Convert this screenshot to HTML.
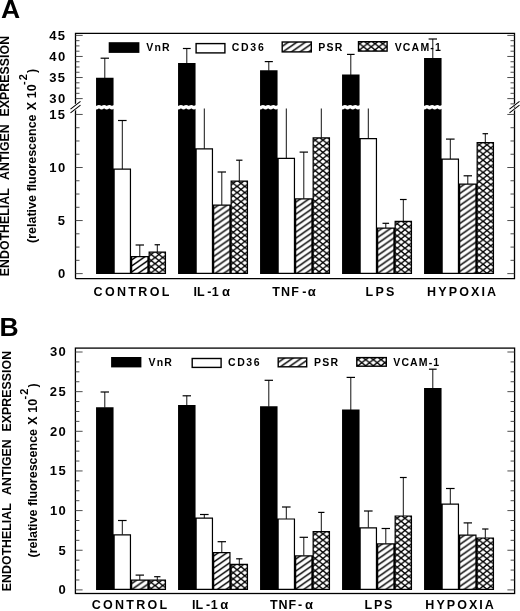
<!DOCTYPE html>
<html><head><meta charset="utf-8"><title>Endothelial antigen expression</title>
<style>
html,body{margin:0;padding:0;background:#fff;width:520px;height:611px;overflow:hidden;}
svg{display:block;will-change:transform;}
text{font-family:"Liberation Sans",sans-serif;font-weight:bold;fill:#000;}
</style></head><body>
<svg width="520" height="611" viewBox="0 0 520 611">
<rect x="0" y="0" width="520" height="611" fill="#fff"/>
<defs>
<pattern id="hatch" patternUnits="userSpaceOnUse" width="8.57" height="6"><rect width="8.57" height="6" fill="#fff"/><path d="M-1,-0.87 L9.57,-8.27 M-1,5.13 L9.57,-2.27 M-1,11.13 L9.57,3.73" stroke="#000" stroke-width="1.5"/></pattern>
<pattern id="hatchL" patternUnits="userSpaceOnUse" width="8.57" height="6"><rect width="8.57" height="6" fill="#fff"/><path d="M-1,0.3 L9.57,-7.1 M-1,6.3 L9.57,-1.1 M-1,12.3 L9.57,4.9" stroke="#000" stroke-width="1.5"/></pattern>
<pattern id="cross" patternUnits="userSpaceOnUse" width="7.7" height="6.12" patternTransform="translate(-1.15,-0.2)"><rect width="7.7" height="6.12" fill="#fff"/><path d="M-0.5,-0.4 L8.2,6.52 M-0.5,6.52 L8.2,-0.4" stroke="#000" stroke-width="1.3"/></pattern>
<pattern id="crossL" patternUnits="userSpaceOnUse" width="7.7" height="6.12" patternTransform="translate(1.85,-3.38)"><rect width="7.7" height="6.12" fill="#fff"/><path d="M-0.5,-0.4 L8.2,6.52 M-0.5,6.52 L8.2,-0.4" stroke="#000" stroke-width="1.3"/></pattern>
</defs>
<g id="panelA">
<path d="M104.8,78.2V58.2" stroke="#111" stroke-width="1.0" fill="none"/>
<path d="M100.6,58.2H109" stroke="#000" stroke-width="1.2" fill="none"/>
<path d="M122.3,169V120.5" stroke="#111" stroke-width="1.0" fill="none"/>
<path d="M118,120.5H126.6" stroke="#000" stroke-width="1.2" fill="none"/>
<rect x="114.15" y="169.1" width="16.3" height="104.2" fill="#fff"/>
<path d="M139.8,256.5V245" stroke="#111" stroke-width="1.0" fill="none"/>
<path d="M135.6,245H144" stroke="#000" stroke-width="1.2" fill="none"/>
<g transform="translate(131.05,256)"><rect x="0.6" y="0.6" width="16.3" height="16.7" fill="url(#hatch)"/></g>
<path d="M157.3,252.1V244.75" stroke="#111" stroke-width="1.0" fill="none"/>
<path d="M154.6,244.75H160" stroke="#000" stroke-width="1.2" fill="none"/>
<g transform="translate(148.55,251.6)"><rect x="0.6" y="0.6" width="16.3" height="21.1" fill="url(#cross)"/></g>
<path d="M96.05,77.7H113.55V273.9H96.05ZM113.55,168.5H131.05V169.7H113.55ZM113.55,272.7H131.05V273.9H113.55ZM113.55,168.5H114.75V273.9H113.55ZM129.85,168.5H131.05V273.9H129.85ZM131.05,256H148.55V257.2H131.05ZM131.05,272.7H148.55V273.9H131.05ZM131.05,256H132.25V273.9H131.05ZM147.35,256H148.55V273.9H147.35ZM148.55,251.6H166.05V252.8H148.55ZM148.55,272.7H166.05V273.9H148.55ZM148.55,251.6H149.75V273.9H148.55ZM164.85,251.6H166.05V273.9H164.85Z" fill="#000"/>
<path d="M186.8,63.6V48.5" stroke="#111" stroke-width="1.0" fill="none"/>
<path d="M182.9,48.5H190.7" stroke="#000" stroke-width="1.2" fill="none"/>
<path d="M204.3,148.8V108.5" stroke="#111" stroke-width="1.0" fill="none"/>
<rect x="196.15" y="148.9" width="16.3" height="124.4" fill="#fff"/>
<path d="M221.8,205V172" stroke="#111" stroke-width="1.0" fill="none"/>
<path d="M217.6,172H226" stroke="#000" stroke-width="1.2" fill="none"/>
<g transform="translate(213.05,204.5)"><rect x="0.6" y="0.6" width="16.3" height="68.2" fill="url(#hatch)"/></g>
<path d="M239.3,181V160.2" stroke="#111" stroke-width="1.0" fill="none"/>
<path d="M236.15,160.2H242.45" stroke="#000" stroke-width="1.2" fill="none"/>
<g transform="translate(230.55,180.5)"><rect x="0.6" y="0.6" width="16.3" height="92.2" fill="url(#cross)"/></g>
<path d="M178.05,63.1H195.55V273.9H178.05ZM195.55,148.3H213.05V149.5H195.55ZM195.55,272.7H213.05V273.9H195.55ZM195.55,148.3H196.75V273.9H195.55ZM211.85,148.3H213.05V273.9H211.85ZM213.05,204.5H230.55V205.7H213.05ZM213.05,272.7H230.55V273.9H213.05ZM213.05,204.5H214.25V273.9H213.05ZM229.35,204.5H230.55V273.9H229.35ZM230.55,180.5H248.05V181.7H230.55ZM230.55,272.7H248.05V273.9H230.55ZM230.55,180.5H231.75V273.9H230.55ZM246.85,180.5H248.05V273.9H246.85Z" fill="#000"/>
<path d="M268.8,70.8V61.6" stroke="#111" stroke-width="1.0" fill="none"/>
<path d="M264.75,61.6H272.85" stroke="#000" stroke-width="1.2" fill="none"/>
<path d="M286.3,158.2V108.5" stroke="#111" stroke-width="1.0" fill="none"/>
<rect x="278.15" y="158.3" width="16.3" height="115" fill="#fff"/>
<path d="M303.8,198.8V152.1" stroke="#111" stroke-width="1.0" fill="none"/>
<path d="M299.6,152.1H308" stroke="#000" stroke-width="1.2" fill="none"/>
<g transform="translate(295.05,198.3)"><rect x="0.6" y="0.6" width="16.3" height="74.4" fill="url(#hatch)"/></g>
<path d="M321.3,137.8V108.5" stroke="#111" stroke-width="1.0" fill="none"/>
<g transform="translate(312.55,137.3)"><rect x="0.6" y="0.6" width="16.3" height="135.4" fill="url(#cross)"/></g>
<path d="M260.05,70.3H277.55V273.9H260.05ZM277.55,157.7H295.05V158.9H277.55ZM277.55,272.7H295.05V273.9H277.55ZM277.55,157.7H278.75V273.9H277.55ZM293.85,157.7H295.05V273.9H293.85ZM295.05,198.3H312.55V199.5H295.05ZM295.05,272.7H312.55V273.9H295.05ZM295.05,198.3H296.25V273.9H295.05ZM311.35,198.3H312.55V273.9H311.35ZM312.55,137.3H330.05V138.5H312.55ZM312.55,272.7H330.05V273.9H312.55ZM312.55,137.3H313.75V273.9H312.55ZM328.85,137.3H330.05V273.9H328.85Z" fill="#000"/>
<path d="M350.8,75.1V54.4" stroke="#111" stroke-width="1.0" fill="none"/>
<path d="M347,54.4H354.6" stroke="#000" stroke-width="1.2" fill="none"/>
<path d="M368.3,138.6V108.5" stroke="#111" stroke-width="1.0" fill="none"/>
<rect x="360.15" y="138.7" width="16.3" height="134.6" fill="#fff"/>
<path d="M385.8,228V223.3" stroke="#111" stroke-width="1.0" fill="none"/>
<path d="M382.5,223.3H389.1" stroke="#000" stroke-width="1.2" fill="none"/>
<g transform="translate(377.05,227.5)"><rect x="0.6" y="0.6" width="16.3" height="45.2" fill="url(#hatch)"/></g>
<path d="M403.3,221.3V199.5" stroke="#111" stroke-width="1.0" fill="none"/>
<path d="M399.95,199.5H406.65" stroke="#000" stroke-width="1.2" fill="none"/>
<g transform="translate(394.55,220.8)"><rect x="0.6" y="0.6" width="16.3" height="51.9" fill="url(#cross)"/></g>
<path d="M342.05,74.6H359.55V273.9H342.05ZM359.55,138.1H377.05V139.3H359.55ZM359.55,272.7H377.05V273.9H359.55ZM359.55,138.1H360.75V273.9H359.55ZM375.85,138.1H377.05V273.9H375.85ZM377.05,227.5H394.55V228.7H377.05ZM377.05,272.7H394.55V273.9H377.05ZM377.05,227.5H378.25V273.9H377.05ZM393.35,227.5H394.55V273.9H393.35ZM394.55,220.8H412.05V222H394.55ZM394.55,272.7H412.05V273.9H394.55ZM394.55,220.8H395.75V273.9H394.55ZM410.85,220.8H412.05V273.9H410.85Z" fill="#000"/>
<path d="M432.8,58.6V39" stroke="#111" stroke-width="1.0" fill="none"/>
<path d="M428.6,39H437" stroke="#000" stroke-width="1.2" fill="none"/>
<path d="M450.3,159V139.1" stroke="#111" stroke-width="1.0" fill="none"/>
<path d="M446,139.1H454.6" stroke="#000" stroke-width="1.2" fill="none"/>
<rect x="442.15" y="159.1" width="16.3" height="114.2" fill="#fff"/>
<path d="M467.8,184.1V175.8" stroke="#111" stroke-width="1.0" fill="none"/>
<path d="M463.6,175.8H472" stroke="#000" stroke-width="1.2" fill="none"/>
<g transform="translate(459.05,183.6)"><rect x="0.6" y="0.6" width="16.3" height="89.1" fill="url(#hatch)"/></g>
<path d="M485.3,142.5V133.7" stroke="#111" stroke-width="1.0" fill="none"/>
<path d="M482.55,133.7H488.05" stroke="#000" stroke-width="1.2" fill="none"/>
<g transform="translate(476.55,142)"><rect x="0.6" y="0.6" width="16.3" height="130.7" fill="url(#cross)"/></g>
<path d="M424.05,58.1H441.55V273.9H424.05ZM441.55,158.5H459.05V159.7H441.55ZM441.55,272.7H459.05V273.9H441.55ZM441.55,158.5H442.75V273.9H441.55ZM457.85,158.5H459.05V273.9H457.85ZM459.05,183.6H476.55V184.8H459.05ZM459.05,272.7H476.55V273.9H459.05ZM459.05,183.6H460.25V273.9H459.05ZM475.35,183.6H476.55V273.9H475.35ZM476.55,142H494.05V143.2H476.55ZM476.55,272.7H494.05V273.9H476.55ZM476.55,142H477.75V273.9H476.55ZM492.85,142H494.05V273.9H492.85Z" fill="#000"/>
<path d="M75.5,104.2V33.4H514.5V278.7H75.5" fill="none" stroke="#000" stroke-width="1.3"/>
<path d="M75.5,278.7V109.5" fill="none" stroke="#000" stroke-width="1.3"/>
<path d="M70.5,109.1L80.5,101.4M70.5,112.8L80.5,105.2" stroke="#fff" stroke-width="2.2"/>
<path d="M70.5,109.1L80.5,101.4M70.5,112.8L80.5,105.2" stroke="#000" stroke-width="1.05"/>
<path d="M509.5,109.1L519.5,101.4M509.5,112.8L519.5,105.2" stroke="#fff" stroke-width="2.2"/>
<path d="M509.5,109.1L519.5,101.4M509.5,112.8L519.5,105.2" stroke="#000" stroke-width="1.05"/>
<path d="M95.05,107.2 Q96.35,108.2 97.65,107.2 Q98.95,106.2 100.25,107.2 Q101.55,108.2 102.85,107.2 Q104.15,106.2 105.45,107.2 Q106.75,108.2 108.05,107.2 Q109.35,106.2 110.65,107.2 Q111.95,108.2 113.25,107.2 Q114.55,106.2 115.85,107.2" fill="none" stroke="#fff" stroke-width="3.5"/>
<path d="M177.05,107.2 Q178.35,108.2 179.65,107.2 Q180.95,106.2 182.25,107.2 Q183.55,108.2 184.85,107.2 Q186.15,106.2 187.45,107.2 Q188.75,108.2 190.05,107.2 Q191.35,106.2 192.65,107.2 Q193.95,108.2 195.25,107.2 Q196.55,106.2 197.85,107.2" fill="none" stroke="#fff" stroke-width="3.5"/>
<path d="M259.05,107.2 Q260.35,108.2 261.65,107.2 Q262.95,106.2 264.25,107.2 Q265.55,108.2 266.85,107.2 Q268.15,106.2 269.45,107.2 Q270.75,108.2 272.05,107.2 Q273.35,106.2 274.65,107.2 Q275.95,108.2 277.25,107.2 Q278.55,106.2 279.85,107.2" fill="none" stroke="#fff" stroke-width="3.5"/>
<path d="M341.05,107.2 Q342.35,108.2 343.65,107.2 Q344.95,106.2 346.25,107.2 Q347.55,108.2 348.85,107.2 Q350.15,106.2 351.45,107.2 Q352.75,108.2 354.05,107.2 Q355.35,106.2 356.65,107.2 Q357.95,108.2 359.25,107.2 Q360.55,106.2 361.85,107.2" fill="none" stroke="#fff" stroke-width="3.5"/>
<path d="M423.05,107.2 Q424.35,108.2 425.65,107.2 Q426.95,106.2 428.25,107.2 Q429.55,108.2 430.85,107.2 Q432.15,106.2 433.45,107.2 Q434.75,108.2 436.05,107.2 Q437.35,106.2 438.65,107.2 Q439.95,108.2 441.25,107.2 Q442.55,106.2 443.85,107.2" fill="none" stroke="#fff" stroke-width="3.5"/>
<path d="M514.5,103.87H510.5M75.5,98.6H82.7M514.5,98.6H507.3M75.5,93.33H79.5M514.5,93.33H510.5M75.5,88.06H79.5M514.5,88.06H510.5M75.5,82.8H79.5M514.5,82.8H510.5M75.5,77.53H82.7M514.5,77.53H507.3M75.5,72.26H79.5M514.5,72.26H510.5M75.5,66.99H79.5M514.5,66.99H510.5M75.5,61.73H79.5M514.5,61.73H510.5M75.5,56.46H82.7M514.5,56.46H507.3M75.5,51.19H79.5M514.5,51.19H510.5M75.5,45.92H79.5M514.5,45.92H510.5M75.5,40.66H79.5M514.5,40.66H510.5M75.5,35.39H82.7M514.5,35.39H507.3M75.5,273.6H82.7M514.5,273.6H507.3M75.5,260.34H79.5M514.5,260.34H510.5M75.5,247.08H79.5M514.5,247.08H510.5M75.5,233.81H79.5M514.5,233.81H510.5M75.5,220.55H82.7M514.5,220.55H507.3M75.5,207.29H79.5M514.5,207.29H510.5M75.5,194.03H79.5M514.5,194.03H510.5M75.5,180.76H79.5M514.5,180.76H510.5M75.5,167.5H82.7M514.5,167.5H507.3M75.5,154.24H79.5M514.5,154.24H510.5M75.5,140.98H79.5M514.5,140.98H510.5M75.5,127.71H79.5M514.5,127.71H510.5M75.5,114.45H82.7M514.5,114.45H507.3" stroke="#3a3a3a" stroke-width="0.9" fill="none"/>
</g>
<g id="panelB">
<path d="M104.8,407.7V392" stroke="#111" stroke-width="1.0" fill="none"/>
<path d="M100.6,392H109" stroke="#000" stroke-width="1.2" fill="none"/>
<path d="M122.3,534.7V520.5" stroke="#111" stroke-width="1.0" fill="none"/>
<path d="M118,520.5H126.6" stroke="#000" stroke-width="1.2" fill="none"/>
<rect x="114.15" y="534.8" width="16.3" height="54.5" fill="#fff"/>
<path d="M139.8,580.1V575.1" stroke="#111" stroke-width="1.0" fill="none"/>
<path d="M135.6,575.1H144" stroke="#000" stroke-width="1.2" fill="none"/>
<g transform="translate(131.05,579.6)"><rect x="0.6" y="0.6" width="16.3" height="9.1" fill="url(#hatch)"/></g>
<path d="M157.3,580.1V576.7" stroke="#111" stroke-width="1.0" fill="none"/>
<path d="M154.15,576.7H160.45" stroke="#000" stroke-width="1.2" fill="none"/>
<g transform="translate(148.55,579.6)"><rect x="0.6" y="0.6" width="16.3" height="9.1" fill="url(#cross)"/></g>
<path d="M96.05,407.2H113.55V589.9H96.05ZM113.55,534.2H131.05V535.4H113.55ZM113.55,588.7H131.05V589.9H113.55ZM113.55,534.2H114.75V589.9H113.55ZM129.85,534.2H131.05V589.9H129.85ZM131.05,579.6H148.55V580.8H131.05ZM131.05,588.7H148.55V589.9H131.05ZM131.05,579.6H132.25V589.9H131.05ZM147.35,579.6H148.55V589.9H147.35ZM148.55,579.6H166.05V580.8H148.55ZM148.55,588.7H166.05V589.9H148.55ZM148.55,579.6H149.75V589.9H148.55ZM164.85,579.6H166.05V589.9H164.85Z" fill="#000"/>
<path d="M186.8,405.5V395.8" stroke="#111" stroke-width="1.0" fill="none"/>
<path d="M182.6,395.8H191" stroke="#000" stroke-width="1.2" fill="none"/>
<path d="M204.3,518.1V514.5" stroke="#111" stroke-width="1.0" fill="none"/>
<path d="M200,514.5H208.6" stroke="#000" stroke-width="1.2" fill="none"/>
<rect x="196.15" y="518.2" width="16.3" height="71.1" fill="#fff"/>
<path d="M221.8,552.6V541.7" stroke="#111" stroke-width="1.0" fill="none"/>
<path d="M217.6,541.7H226" stroke="#000" stroke-width="1.2" fill="none"/>
<g transform="translate(213.05,552.1)"><rect x="0.6" y="0.6" width="16.3" height="36.6" fill="url(#hatch)"/></g>
<path d="M239.3,564.3V558.8" stroke="#111" stroke-width="1.0" fill="none"/>
<path d="M236.15,558.8H242.45" stroke="#000" stroke-width="1.2" fill="none"/>
<g transform="translate(230.55,563.8)"><rect x="0.6" y="0.6" width="16.3" height="24.9" fill="url(#cross)"/></g>
<path d="M178.05,405H195.55V589.9H178.05ZM195.55,517.6H213.05V518.8H195.55ZM195.55,588.7H213.05V589.9H195.55ZM195.55,517.6H196.75V589.9H195.55ZM211.85,517.6H213.05V589.9H211.85ZM213.05,552.1H230.55V553.3H213.05ZM213.05,588.7H230.55V589.9H213.05ZM213.05,552.1H214.25V589.9H213.05ZM229.35,552.1H230.55V589.9H229.35ZM230.55,563.8H248.05V565H230.55ZM230.55,588.7H248.05V589.9H230.55ZM230.55,563.8H231.75V589.9H230.55ZM246.85,563.8H248.05V589.9H246.85Z" fill="#000"/>
<path d="M268.8,406.7V380.3" stroke="#111" stroke-width="1.0" fill="none"/>
<path d="M264.6,380.3H273" stroke="#000" stroke-width="1.2" fill="none"/>
<path d="M286.3,518.9V507" stroke="#111" stroke-width="1.0" fill="none"/>
<path d="M282,507H290.6" stroke="#000" stroke-width="1.2" fill="none"/>
<rect x="278.15" y="519" width="16.3" height="70.3" fill="#fff"/>
<path d="M303.8,555.7V537.3" stroke="#111" stroke-width="1.0" fill="none"/>
<path d="M299.6,537.3H308" stroke="#000" stroke-width="1.2" fill="none"/>
<g transform="translate(295.05,555.2)"><rect x="0.6" y="0.6" width="16.3" height="33.5" fill="url(#hatch)"/></g>
<path d="M321.3,531.6V512.4" stroke="#111" stroke-width="1.0" fill="none"/>
<path d="M318.15,512.4H324.45" stroke="#000" stroke-width="1.2" fill="none"/>
<g transform="translate(312.55,531.1)"><rect x="0.6" y="0.6" width="16.3" height="57.6" fill="url(#cross)"/></g>
<path d="M260.05,406.2H277.55V589.9H260.05ZM277.55,518.4H295.05V519.6H277.55ZM277.55,588.7H295.05V589.9H277.55ZM277.55,518.4H278.75V589.9H277.55ZM293.85,518.4H295.05V589.9H293.85ZM295.05,555.2H312.55V556.4H295.05ZM295.05,588.7H312.55V589.9H295.05ZM295.05,555.2H296.25V589.9H295.05ZM311.35,555.2H312.55V589.9H311.35ZM312.55,531.1H330.05V532.3H312.55ZM312.55,588.7H330.05V589.9H312.55ZM312.55,531.1H313.75V589.9H312.55ZM328.85,531.1H330.05V589.9H328.85Z" fill="#000"/>
<path d="M350.8,410V377.4" stroke="#111" stroke-width="1.0" fill="none"/>
<path d="M346.6,377.4H355" stroke="#000" stroke-width="1.2" fill="none"/>
<path d="M368.3,527.7V511" stroke="#111" stroke-width="1.0" fill="none"/>
<path d="M364,511H372.6" stroke="#000" stroke-width="1.2" fill="none"/>
<rect x="360.15" y="527.8" width="16.3" height="61.5" fill="#fff"/>
<path d="M385.8,543.8V528.5" stroke="#111" stroke-width="1.0" fill="none"/>
<path d="M381.6,528.5H390" stroke="#000" stroke-width="1.2" fill="none"/>
<g transform="translate(377.05,543.3)"><rect x="0.6" y="0.6" width="16.3" height="45.4" fill="url(#hatch)"/></g>
<path d="M403.3,515.9V477.5" stroke="#111" stroke-width="1.0" fill="none"/>
<path d="M399.9,477.5H406.7" stroke="#000" stroke-width="1.2" fill="none"/>
<g transform="translate(394.55,515.4)"><rect x="0.6" y="0.6" width="16.3" height="73.3" fill="url(#cross)"/></g>
<path d="M342.05,409.5H359.55V589.9H342.05ZM359.55,527.2H377.05V528.4H359.55ZM359.55,588.7H377.05V589.9H359.55ZM359.55,527.2H360.75V589.9H359.55ZM375.85,527.2H377.05V589.9H375.85ZM377.05,543.3H394.55V544.5H377.05ZM377.05,588.7H394.55V589.9H377.05ZM377.05,543.3H378.25V589.9H377.05ZM393.35,543.3H394.55V589.9H393.35ZM394.55,515.4H412.05V516.6H394.55ZM394.55,588.7H412.05V589.9H394.55ZM394.55,515.4H395.75V589.9H394.55ZM410.85,515.4H412.05V589.9H410.85Z" fill="#000"/>
<path d="M432.8,388.6V369.2" stroke="#111" stroke-width="1.0" fill="none"/>
<path d="M428.95,369.2H436.65" stroke="#000" stroke-width="1.2" fill="none"/>
<path d="M450.3,504V488.5" stroke="#111" stroke-width="1.0" fill="none"/>
<path d="M446,488.5H454.6" stroke="#000" stroke-width="1.2" fill="none"/>
<rect x="442.15" y="504.1" width="16.3" height="85.2" fill="#fff"/>
<path d="M467.8,535.1V522.9" stroke="#111" stroke-width="1.0" fill="none"/>
<path d="M463.6,522.9H472" stroke="#000" stroke-width="1.2" fill="none"/>
<g transform="translate(459.05,534.6)"><rect x="0.6" y="0.6" width="16.3" height="54.1" fill="url(#hatch)"/></g>
<path d="M485.3,537.9V529" stroke="#111" stroke-width="1.0" fill="none"/>
<path d="M482.15,529H488.45" stroke="#000" stroke-width="1.2" fill="none"/>
<g transform="translate(476.55,537.4)"><rect x="0.6" y="0.6" width="16.3" height="51.3" fill="url(#cross)"/></g>
<path d="M424.05,388.1H441.55V589.9H424.05ZM441.55,503.5H459.05V504.7H441.55ZM441.55,588.7H459.05V589.9H441.55ZM441.55,503.5H442.75V589.9H441.55ZM457.85,503.5H459.05V589.9H457.85ZM459.05,534.6H476.55V535.8H459.05ZM459.05,588.7H476.55V589.9H459.05ZM459.05,534.6H460.25V589.9H459.05ZM475.35,534.6H476.55V589.9H475.35ZM476.55,537.4H494.05V538.6H476.55ZM476.55,588.7H494.05V589.9H476.55ZM476.55,537.4H477.75V589.9H476.55ZM492.85,537.4H494.05V589.9H492.85Z" fill="#000"/>
<rect x="75.4" y="348.1" width="439.2" height="245.4" fill="none" stroke="#000" stroke-width="1.3"/>
<path d="M75.4,589.9H82.6M514.6,589.9H507.4M75.4,579.99H79.4M514.6,579.99H510.6M75.4,570.07H79.4M514.6,570.07H510.6M75.4,560.16H79.4M514.6,560.16H510.6M75.4,550.25H82.6M514.6,550.25H507.4M75.4,540.34H79.4M514.6,540.34H510.6M75.4,530.42H79.4M514.6,530.42H510.6M75.4,520.51H79.4M514.6,520.51H510.6M75.4,510.6H82.6M514.6,510.6H507.4M75.4,500.69H79.4M514.6,500.69H510.6M75.4,490.77H79.4M514.6,490.77H510.6M75.4,480.86H79.4M514.6,480.86H510.6M75.4,470.95H82.6M514.6,470.95H507.4M75.4,461.04H79.4M514.6,461.04H510.6M75.4,451.12H79.4M514.6,451.12H510.6M75.4,441.21H79.4M514.6,441.21H510.6M75.4,431.3H82.6M514.6,431.3H507.4M75.4,421.39H79.4M514.6,421.39H510.6M75.4,411.48H79.4M514.6,411.48H510.6M75.4,401.56H79.4M514.6,401.56H510.6M75.4,391.65H82.6M514.6,391.65H507.4M75.4,381.74H79.4M514.6,381.74H510.6M75.4,371.82H79.4M514.6,371.82H510.6M75.4,361.91H79.4M514.6,361.91H510.6M75.4,352H82.6M514.6,352H507.4" stroke="#3a3a3a" stroke-width="0.9" fill="none"/>
</g>
<text x="1.08" y="18.2" font-size="26.5">A</text>
<text x="-0.45" y="336" font-size="26.5">B</text>
<text x="49.2" y="39.75" font-size="13" letter-spacing="1.4">45</text>
<text x="49.32" y="60.85" font-size="13" letter-spacing="1.4">40</text>
<text x="49.2" y="81.95" font-size="13" letter-spacing="1.4">35</text>
<text x="49.32" y="103.05" font-size="13" letter-spacing="1.4">30</text>
<text x="49.2" y="118.95" font-size="13" letter-spacing="1.4">15</text>
<text x="49.32" y="171.95" font-size="13" letter-spacing="1.4">10</text>
<text x="57.82" y="224.95" font-size="13" letter-spacing="1.4">5</text>
<text x="57.95" y="278.05" font-size="13" letter-spacing="1.4">0</text>
<text x="58.55" y="594.35" font-size="13" letter-spacing="1.4">0</text>
<text x="58.42" y="554.7" font-size="13" letter-spacing="1.4">5</text>
<text x="49.92" y="515.05" font-size="13" letter-spacing="1.4">10</text>
<text x="49.8" y="475.4" font-size="13" letter-spacing="1.4">15</text>
<text x="49.92" y="435.75" font-size="13" letter-spacing="1.4">20</text>
<text x="49.8" y="396.1" font-size="13" letter-spacing="1.4">25</text>
<text x="49.92" y="356.45" font-size="13" letter-spacing="1.4">30</text>
<rect x="108.7" y="42.2" width="30.7" height="10.7" fill="#000"/>
<g transform="translate(195.4,42.9)"><rect x="0.7" y="0.7" width="28.8" height="9.3" fill="#fff" stroke="#000" stroke-width="1.4"/></g>
<g transform="translate(281.5,41.3)"><rect x="0.7" y="0.7" width="29.1" height="9.9" fill="url(#hatchL)" stroke="#000" stroke-width="1.4"/></g>
<g transform="translate(357.8,41)"><rect x="0.7" y="0.7" width="28.6" height="9.4" fill="url(#crossL)" stroke="#000" stroke-width="1.4"/></g>
<text x="146.18" y="50.8" font-size="10.5" letter-spacing="1.24">VnR</text>
<text x="231.82" y="50.8" font-size="10.5" letter-spacing="1.69">CD36</text>
<text x="318.25" y="50.8" font-size="10.5" letter-spacing="1.24">PSR</text>
<text x="394.68" y="50.8" font-size="10.5" letter-spacing="1.18">VCAM-1</text>
<rect x="111.1" y="357" width="30.3" height="10.4" fill="#000"/>
<g transform="translate(191.5,357.8)"><rect x="0.7" y="0.7" width="28.9" height="8.9" fill="#fff" stroke="#000" stroke-width="1.4"/></g>
<g transform="translate(277.5,357.3)"><rect x="0.7" y="0.7" width="28.5" height="8.8" fill="url(#hatchL)" stroke="#000" stroke-width="1.4"/></g>
<g transform="translate(356.1,356.9)"><rect x="0.7" y="0.7" width="29.5" height="8.6" fill="url(#crossL)" stroke="#000" stroke-width="1.4"/></g>
<text x="148.38" y="366.1" font-size="10.5" letter-spacing="1.28">VnR</text>
<text x="228.02" y="366.1" font-size="10.5" letter-spacing="1.59">CD36</text>
<text x="314.05" y="366.1" font-size="10.5" letter-spacing="1.28">PSR</text>
<text x="393.28" y="366.1" font-size="10.5" letter-spacing="1.12">VCAM-1</text>
<text x="93.6" y="295.8" font-size="12.5" letter-spacing="2.32">CONTROL</text>
<text x="365.62" y="295.8" font-size="12.5" letter-spacing="2.2">LPS</text>
<text x="427.12" y="295.8" font-size="12.5" letter-spacing="2.12">HYPOXIA</text>
<text x="193.42 196.92 207.3 211.85" y="295.8" font-size="12.5">IL-1</text>
<text x="221.9" y="295.8" font-size="13" font-weight="normal">&#945;</text>
<text x="272.28 281.12 291.22 302.2" y="295.8" font-size="12.5">TNF-</text>
<text x="307.7" y="295.8" font-size="13" font-weight="normal">&#945;</text>
<text x="91.8" y="609.3" font-size="12.5" letter-spacing="2.25">CONTROL</text>
<text x="364.5" y="609.3" font-size="12.5" letter-spacing="1.8">LPS</text>
<text x="425.32" y="609.3" font-size="12.5" letter-spacing="2.05">HYPOXIA</text>
<text x="191.92 195.62 206.1 210.65" y="609.3" font-size="12.5">IL-1</text>
<text x="220.2" y="609.3" font-size="13" font-weight="normal">&#945;</text>
<text x="269.88 278.62 288.62 298" y="609.3" font-size="12.5">TNF-</text>
<text x="305" y="609.3" font-size="13" font-weight="normal">&#945;</text>
<text transform="translate(9.3,276.28) rotate(-90)" font-size="12.4">ENDOTHELIAL</text>
<text transform="translate(9.3,179.98) rotate(-90)" font-size="12.4">ANTIGEN</text>
<text transform="translate(9.3,116.48) rotate(-90)" font-size="12.4">EXPRESSION</text>
<text transform="translate(36,243) rotate(-90)" font-size="12.5">(relative fluorescence</text>
<text transform="translate(36,110.22) rotate(-90)" font-size="12.4">X</text>
<text transform="translate(36,98.25) rotate(-90)" font-size="12.4">10</text>
<text transform="translate(26.7,84.88) rotate(-90)" font-size="11">-</text>
<text transform="translate(26.7,80.28) rotate(-90)" font-size="11">2</text>
<text transform="translate(36.2,73.12) rotate(-90)" font-size="12.5" font-weight="normal">)</text>
<text transform="translate(11.1,591.28) rotate(-90)" font-size="12.4">ENDOTHELIAL</text>
<text transform="translate(11.1,494.98) rotate(-90)" font-size="12.4">ANTIGEN</text>
<text transform="translate(11.1,431.48) rotate(-90)" font-size="12.4">EXPRESSION</text>
<text transform="translate(36.9,557.5) rotate(-90)" font-size="12.5">(relative fluorescence</text>
<text transform="translate(36.9,424.72) rotate(-90)" font-size="12.4">X</text>
<text transform="translate(36.9,412.75) rotate(-90)" font-size="12.4">10</text>
<text transform="translate(27.6,399.38) rotate(-90)" font-size="11">-</text>
<text transform="translate(27.6,394.78) rotate(-90)" font-size="11">2</text>
<text transform="translate(37.1,387.62) rotate(-90)" font-size="12.5" font-weight="normal">)</text>
</svg>
</body></html>
